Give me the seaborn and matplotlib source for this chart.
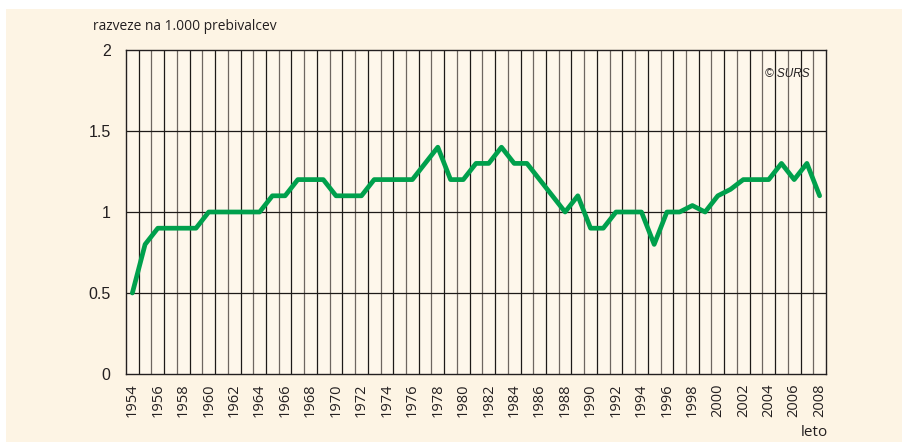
import matplotlib
matplotlib.use("Agg")
import matplotlib.pyplot as plt
import matplotlib.patches as mpatches
import numpy as np
import pandas as pd
import seaborn as sns

# podatki: razveze na 1.000 prebivalcev
years = list(range(1954, 2009))
divorces = [0.5, 0.8, 0.9, 0.9, 0.9, 0.9, 1.0, 1.0, 1.0, 1.0,
            1.0, 1.1, 1.1, 1.2, 1.2, 1.2, 1.1, 1.1, 1.1, 1.2,
            1.2, 1.2, 1.2, 1.3, 1.4, 1.2, 1.2, 1.3, 1.3, 1.4,
            1.3, 1.3, 1.2, 1.1, 1.0, 1.1, 0.9, 0.9, 1.0, 1.0,
            1.0, 0.8, 1.0, 1.0, 1.04, 1.0, 1.1, 1.14, 1.2, 1.2,
            1.2, 1.3, 1.2, 1.3, 1.1]
y_ticks = [0, 0.5, 1, 1.5, 2]
y_tick_labels = ["0", "0.5", "1", "1.5", "2"]
x_tick_years = list(range(1954, 2009, 2))

df = pd.DataFrame({"leto": years, "razveze": divorces})

sns.set_style("white")
plt.rcParams["font.family"] = ["Open Sans", "DejaVu Sans"]

fig = plt.figure(figsize=(9.02, 4.42), dpi=100)
fig.patch.set_facecolor("white")
fig.patches.append(mpatches.Rectangle((6 / 902, 0), 1, 1 - 9 / 442,
                                      transform=fig.transFigure,
                                      facecolor="#fdf4e4", edgecolor="none",
                                      zorder=-10))

ax = fig.add_axes([126 / 902, 68 / 442, 700 / 902, 324 / 442])
ax.set_facecolor("#fef7eb")

sns.lineplot(data=df, x="leto", y="razveze", ax=ax, color="#00a04c",
             linewidth=3.4, zorder=5)

ax.set_xlim(1953.5, 2008.5)
ax.set_ylim(0, 2)

# vertical grid at year boundaries
for i, b in enumerate(np.arange(1954.5, 2008.5, 1)):
    ax.axvline(b, color="#1e1a18" if i % 2 == 0 else "#6e6660",
               linewidth=0.9, zorder=1)
for v in y_ticks[1:-1]:
    ax.axhline(v, color="#1e1a18", linewidth=0.9, zorder=1)

ax.set_xticks(x_tick_years)
ax.set_xticklabels([str(y) for y in x_tick_years], rotation=90,
                   fontsize=10.5, color="#231f20")
ax.set_yticks(y_ticks)
ax.set_yticklabels(y_tick_labels, fontsize=11.5, color="#231f20",
                   family=["Liberation Sans", "DejaVu Sans"])
ax.tick_params(axis="both", length=0)
ax.tick_params(axis="y", pad=11)
ax.tick_params(axis="x", pad=7)
ax.set_xlabel("")
ax.set_ylabel("")

for s in ax.spines.values():
    s.set_color("#231f20")
    s.set_linewidth(1.0)

fig.text(93 / 902, 1 - 26 / 442, "razveze na 1.000 prebivalcev",
         fontsize=9.9, color="#231f20", va="center", ha="left")
fig.text(828 / 902, 1 - 433 / 442, "leto", fontsize=11,
         color="#231f20", va="center", ha="right")
ax.text(0.977, 0.925, "© SURS", transform=ax.transAxes, fontsize=8.5,
        style="italic", color="#231f20", ha="right", va="center",
        family=["Liberation Sans", "DejaVu Sans"])

fig.savefig("out.png", dpi=100, facecolor=fig.get_facecolor())
